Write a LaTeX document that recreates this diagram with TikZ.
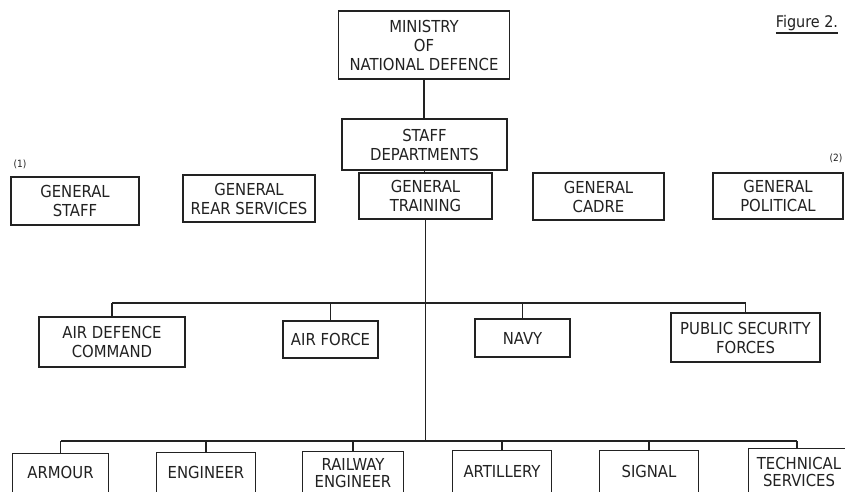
\documentclass[tikz,border=0pt]{standalone}
\usepackage{fontspec}
\setmainfont{DejaVu Sans Condensed}
\definecolor{ink}{HTML}{222222}
\tikzset{
  box/.style={draw=ink, line width=1.3pt, rectangle, inner sep=0pt, align=center,
    font=\fontsize{16.5}{19}\selectfont, text=ink},
  openbox/.style={rectangle, inner sep=0pt, align=center,
    font=\fontsize{16.5}{17}\selectfont, text=ink},
  conn/.style={draw=ink, line width=1.3pt},
  note/.style={font=\fontsize{10}{11}\selectfont, text=ink, inner sep=0pt}
}
\begin{document}
\begin{tikzpicture}[x=1pt,y=-1pt]
\useasboundingbox (0,0) rectangle (845,491);
\clip (0,0) rectangle (845,491);
\fill[white] (0,0) rectangle (845,491);

% top chain
\node[box, minimum width=171, minimum height=68] (min) at (424,45) {MINISTRY\\OF\\NATIONAL DEFENCE};
\node[box, minimum width=165, minimum height=51] (staff) at (424.5,144.5) {STAFF\\DEPARTMENTS};
\node[box, minimum width=133, minimum height=46] (train) at (425.5,196) {GENERAL\\TRAINING};

% general departments row
\node[box, minimum width=128, minimum height=48] (gstaff) at (75,201) {GENERAL\\STAFF};
\node[box, minimum width=132, minimum height=47] (rear) at (249,198.5) {GENERAL\\REAR SERVICES};
\node[box, minimum width=131, minimum height=47] (cadre) at (598.5,196.5) {GENERAL\\CADRE};
\node[box, minimum width=130, minimum height=46] (pol) at (778,196) {GENERAL\\POLITICAL};

\node[note] (n1) at (20,164) {(1)};
\node[note] (n2) at (836,158) {(2)};

% Figure label
\node[font=\fontsize{16}{18}\selectfont, text=ink, inner sep=0pt] (fig) at (807,23) {Figure 2.};
\draw[conn, line width=1.4pt] ([yshift=-10]fig.west |- fig.center) -- ([yshift=-10]fig.east |- fig.center);

% services row
\node[box, minimum width=146, minimum height=50] (adc) at (112,342) {AIR DEFENCE\\COMMAND};
\node[box, minimum width=95, minimum height=37] (af) at (330.5,339.5) {AIR FORCE};
\node[box, minimum width=95, minimum height=38] (navy) at (522.5,338) {NAVY};
\node[box, minimum width=149, minimum height=49] (psf) at (745.5,337.5) {PUBLIC SECURITY\\FORCES};

% arms row (boxes run off the bottom edge)
\node[openbox, minimum width=95, minimum height=36] (arm) at (60.5,472) {ARMOUR};
\node[openbox, minimum width=98, minimum height=38] (eng) at (206,472) {ENGINEER};
\node[openbox, minimum width=100, minimum height=42] (rail) at (353,473) {RAILWAY\\ENGINEER};
\node[openbox, minimum width=98, minimum height=40] (art) at (502,471) {ARTILLERY};
\node[openbox, minimum width=98, minimum height=40] (sig) at (649,471) {SIGNAL};
\node[openbox, minimum width=100, minimum height=46] (tech) at (799,472) {TECHNICAL\\SERVICES};
\foreach \n in {arm,eng,rail,art,sig,tech}{
  \draw[conn] ([yshift=-40]\n.south west) -- (\n.north west) -- (\n.north east) -- ([yshift=-40]\n.south east);
}

% connectors
\coordinate (bus1) at (0,303);
\coordinate (bus2) at (0,441);
\draw[conn] (min.south) -- (min.south |- staff.north);
\draw[conn] (staff.south) -- (staff.south |- train.north);
\draw[conn] (train.south) -- (train.south |- bus2);

\draw[conn] (adc.north |- bus1) -- (psf.north |- bus1);
\foreach \n in {adc,af,navy,psf}{
  \draw[conn] (\n.north |- bus1) -- (\n.north);
}
\draw[conn] (arm.north |- bus2) -- ([xshift=-2]tech.north |- bus2);
\foreach \n in {arm,eng,rail,art,sig}{
  \draw[conn] (\n.north |- bus2) -- (\n.north);
}
\draw[conn] ([xshift=-2]tech.north |- bus2) -- ([xshift=-2]tech.north);
\end{tikzpicture}
\end{document}
